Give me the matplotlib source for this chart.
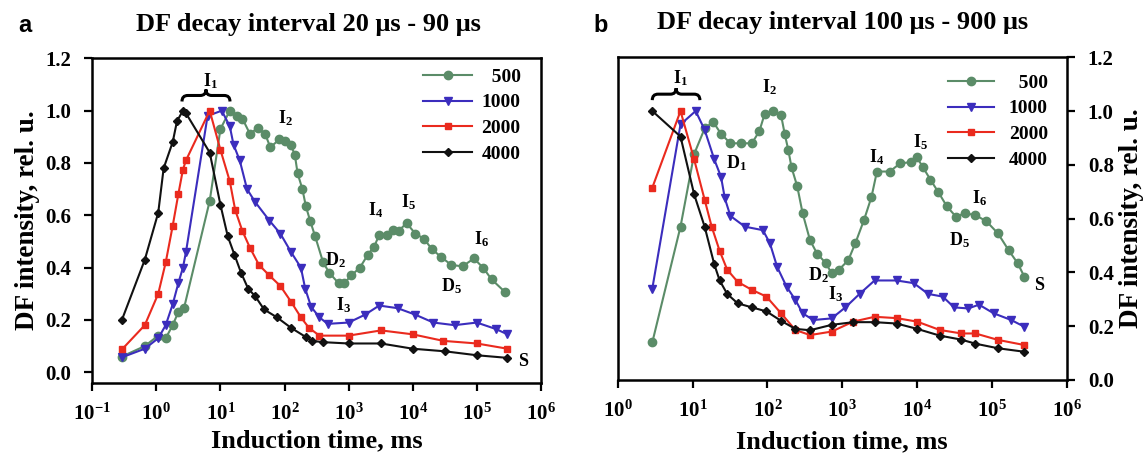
import matplotlib
matplotlib.use("Agg")
import matplotlib.pyplot as plt
from matplotlib.path import Path
from matplotlib.patches import PathPatch

plt.rcParams['font.family'] = ['Liberation Serif', 'DejaVu Serif']
plt.rcParams['font.weight'] = 'bold'
plt.rcParams['mathtext.fontset'] = 'custom'
plt.rcParams['mathtext.rm'] = 'Liberation Serif:bold'
plt.rcParams['mathtext.bf'] = 'Liberation Serif:bold'
plt.rcParams['mathtext.it'] = 'Liberation Serif:bold'

# ---- panel a: DF decay interval 20-90 us ----
a_x_500 = [0.29, 0.66, 1.07, 1.4, 1.8, 2.2, 2.7, 6.8, 10, 14, 18, 22, 29, 38, 50, 60, 83, 100, 125,
           145, 160, 190, 215, 250, 300, 400, 500, 700, 850, 1100, 1500, 2000, 2500, 3000, 4000,
           5000, 6000, 8000, 11000, 15000, 20000, 28000, 40000, 60000, 90000, 125000, 170000, 280000]
a_y_500 = [0.06, 0.10, 0.14, 0.13, 0.18, 0.23, 0.245, 0.655, 0.93, 1.0, 0.98, 0.97, 0.91, 0.935, 0.91,
           0.86, 0.89, 0.885, 0.87, 0.83, 0.76, 0.70, 0.635, 0.58, 0.52, 0.42, 0.38, 0.34, 0.34, 0.37,
           0.40, 0.45, 0.48, 0.525, 0.525, 0.545, 0.54, 0.57, 0.53, 0.51, 0.47, 0.44, 0.41, 0.405,
           0.435, 0.40, 0.355, 0.305]
a_x_1000 = [0.29, 0.66, 1.07, 1.4, 1.8, 2.2, 2.6, 2.9, 6.3, 10.5, 14, 16, 20, 26, 35, 58, 86, 126, 180,
            210, 260, 350, 470, 1000, 1800, 3000, 5800, 11000, 21000, 45000, 100000, 200000, 300000]
a_y_1000 = [0.057, 0.09, 0.13, 0.18, 0.26, 0.34, 0.40, 0.46, 0.98, 1.0, 0.94, 0.87, 0.81, 0.70, 0.65,
            0.58, 0.53, 0.46, 0.40, 0.32, 0.25, 0.21, 0.185, 0.19, 0.22, 0.255, 0.245, 0.22, 0.19,
            0.18, 0.19, 0.165, 0.145]
a_x_2000 = [0.29, 0.66, 1.07, 1.4, 1.8, 2.2, 2.6, 2.9, 6.8, 10, 14, 17, 22, 29, 40, 58, 86, 126, 180,
            240, 350, 1000, 3200, 10000, 30000, 100000, 300000]
a_y_2000 = [0.087, 0.18, 0.30, 0.42, 0.56, 0.68, 0.775, 0.81, 1.0, 0.85, 0.73, 0.62, 0.54, 0.475, 0.41,
            0.37, 0.33, 0.27, 0.21, 0.17, 0.14, 0.14, 0.16, 0.145, 0.12, 0.11, 0.09]
a_x_4000 = [0.29, 0.66, 1.07, 1.3, 1.8, 2.1, 2.6, 2.9, 6.8, 10, 13, 16.5, 21, 27, 35, 48, 76, 126, 214,
            270, 400, 1000, 3200, 10000, 32000, 100000, 300000]
a_y_4000 = [0.20, 0.43, 0.61, 0.78, 0.88, 0.96, 1.0, 0.99, 0.84, 0.64, 0.52, 0.45, 0.38, 0.32, 0.29,
            0.24, 0.21, 0.17, 0.135, 0.12, 0.115, 0.11, 0.11, 0.09, 0.08, 0.065, 0.055]

# ---- panel b: DF decay interval 100-900 us ----
b_x_500 = [2.9, 6.9, 10.5, 14.5, 18.8, 24, 32, 44, 62, 78, 92, 120, 152, 170, 190, 210, 250, 295, 370,
           460, 600, 720, 900, 1200, 1500, 1950, 2450, 2900, 4300, 5900, 8200, 9800, 12000, 15000,
           19000, 25000, 33000, 43000, 60000, 84000, 120000, 166000, 220000, 270000]
b_y_500 = [0.14, 0.57, 0.84, 0.935, 0.96, 0.915, 0.88, 0.88, 0.88, 0.925, 0.99, 1.0, 0.985, 0.915,
           0.855, 0.79, 0.72, 0.62, 0.52, 0.47, 0.435, 0.397, 0.41, 0.445, 0.51, 0.595, 0.68, 0.775,
           0.775, 0.805, 0.81, 0.83, 0.79, 0.745, 0.70, 0.645, 0.607, 0.62, 0.613, 0.59, 0.545,
           0.483, 0.434, 0.384]
b_x_1000 = [2.9, 6.9, 11, 14.5, 19.5, 24, 27, 32, 50, 87, 108, 135, 180, 237, 295, 410, 720, 1100,
            1700, 2700, 5300, 9000, 14000, 22000, 31000, 48000, 67000, 105000, 180000, 270000]
b_y_1000 = [0.34, 0.95, 1.0, 0.93, 0.82, 0.755, 0.675, 0.61, 0.57, 0.557, 0.508, 0.42, 0.347, 0.297,
            0.248, 0.223, 0.229, 0.27, 0.32, 0.37, 0.37, 0.36, 0.32, 0.31, 0.27, 0.266, 0.28, 0.248,
            0.223, 0.198]
b_x_2000 = [2.9, 6.9, 10.5, 14.5, 18, 23, 29, 40, 62, 97, 152, 236, 370, 720, 1400, 2700, 5300, 10000,
            20000, 39000, 60000, 120000, 270000]
b_y_2000 = [0.715, 1.0, 0.82, 0.67, 0.57, 0.48, 0.41, 0.365, 0.335, 0.31, 0.248, 0.186, 0.167, 0.18,
            0.217, 0.235, 0.23, 0.217, 0.186, 0.173, 0.173, 0.149, 0.13]
b_x_4000 = [2.9, 6.9, 10.5, 14.5, 19.5, 23, 29, 40, 62, 97, 152, 236, 370, 720, 1400, 2700, 5300,
            10000, 20000, 39000, 60000, 120000, 270000]
b_y_4000 = [1.0, 0.905, 0.69, 0.57, 0.43, 0.37, 0.32, 0.285, 0.27, 0.255, 0.22, 0.19, 0.185, 0.205,
            0.215, 0.215, 0.21, 0.19, 0.165, 0.15, 0.135, 0.118, 0.105]

labels = ['\u2007500', '1000', '2000', '4000']
colors = ['#5b8c68', '#3b2dbd', '#ea2a1e', '#111111']
markers = ['o', 'v', 's', 'D']
msizes = [6, 6, 5, 4.5]

a_notes = [('I$_2$', 105, 0.97), ('D$_2$', 630, 0.43), ('I$_3$', 830, 0.255), ('I$_4$', 2600, 0.62),
           ('I$_5$', 8500, 0.65), ('I$_6$', 120000, 0.51), ('D$_5$', 40000, 0.33), ('S', 520000, 0.04)]
b_notes = [('I$_2$', 108, 1.09), ('D$_1$', 38, 0.805), ('D$_2$', 487, 0.39), ('I$_3$', 800, 0.32),
           ('I$_4$', 2900, 0.83), ('I$_5$', 11000, 0.886), ('I$_6$', 68000, 0.675),
           ('D$_5$', 37000, 0.52), ('S', 430000, 0.353)]


def brace(ax, x0, x1, y0, h):
    # curly brace opening downwards, in axes fraction
    xm = (x0 + x1) / 2
    w = x1 - x0
    ym = y0 + h / 2
    verts = [(x0, y0), (x0, ym), (x0 + w * 0.12, ym),
             (xm - w * 0.12, ym), (xm, ym), (xm, y0 + h),
             (xm, ym), (xm + w * 0.12, ym),
             (x1 - w * 0.12, ym), (x1, ym), (x1, y0)]
    codes = [Path.MOVETO, Path.CURVE3, Path.CURVE3,
             Path.LINETO, Path.CURVE3, Path.CURVE3,
             Path.CURVE3, Path.CURVE3,
             Path.LINETO, Path.CURVE3, Path.CURVE3]
    ax.add_patch(PathPatch(Path(verts, codes), transform=ax.transAxes, fill=False, lw=2.2,
                           color='black', clip_on=False))


fig = plt.figure(figsize=(11.46, 4.54), dpi=100)
ax1 = fig.add_axes([0.0805, 0.157, 0.3915, 0.7145])
ax2 = fig.add_axes([0.539, 0.163, 0.392, 0.711])

data_a = [(a_x_500, a_y_500), (a_x_1000, a_y_1000), (a_x_2000, a_y_2000), (a_x_4000, a_y_4000)]
data_b = [(b_x_500, b_y_500), (b_x_1000, b_y_1000), (b_x_2000, b_y_2000), (b_x_4000, b_y_4000)]

for ax, data in [(ax1, data_a), (ax2, data_b)]:
    for (xs, ys), lab, c, m, ms in zip(data, labels, colors, markers, msizes):
        ax.plot(xs, ys, color=c, marker=m, markersize=ms, lw=1.5, label=lab)
    ax.set_xscale('log')
    for sp in ax.spines.values():
        sp.set_linewidth(1.8)
    ax.tick_params(direction='out', length=6, width=1.6, labelsize=15, which='major', pad=9)
    ax.tick_params(which='minor', length=0)
    ax.set_ylabel('DF intensity, rel. u.', fontsize=19.5, fontweight='bold')
    ax.set_yticks([0.0, 0.2, 0.4, 0.6, 0.8, 1.0, 1.2])
    ax.set_yticklabels(['0.0', '0.2', '0.4', '0.6', '0.8', '1.0', '1.2'], fontweight='bold')

leg_a = ax1.legend(loc='upper right', frameon=False, fontsize=14, handlelength=2.5,
                   handletextpad=0.5, labelspacing=0.42, borderpad=0, borderaxespad=0,
                   bbox_to_anchor=(0.955, 0.97))
leg_b = ax2.legend(loc='upper right', frameon=False, fontsize=14, handlelength=2.4,
                   handletextpad=0.75, labelspacing=0.42, borderpad=0, borderaxespad=0,
                   bbox_to_anchor=(0.958, 0.948))

ax1.set_xlim(0.1, 1e6)
ax1.set_ylim(-0.04, 1.2)
ax1.set_xticks([10.0 ** k for k in range(-1, 7)])
ax1.set_xticklabels(['$10^{-1}$'] + ['$10^{%d}$' % k for k in range(0, 7)])
ax1.set_xlabel('Induction time, ms', fontsize=19, fontweight='bold', labelpad=3)
ax1.set_title('DF decay interval 20 μs - 90 μs', fontsize=19, fontweight='bold', pad=20, x=0.481)

ax2.set_xlim(1, 1e6)
ax2.set_ylim(0, 1.2)
ax2.set_xticks([10.0 ** k for k in range(0, 7)])
ax2.set_xticklabels(['$10^{%d}$' % k for k in range(0, 7)])
ax2.set_xlabel('Induction time, ms', fontsize=19, fontweight='bold', labelpad=6)
ax2.yaxis.tick_right()
ax2.yaxis.set_label_position('right')
ax2.set_title('DF decay interval 100 μs - 900 μs', fontsize=19, fontweight='bold', pad=20)

for ax, notes in [(ax1, a_notes), (ax2, b_notes)]:
    for txt, x, y in notes:
        ax.text(x, y, txt, fontsize=13, fontweight='bold', ha='center', va='center')

brace(ax1, 0.2, 0.307, 0.867, 0.037)
ax1.text(0.264, 0.93, 'I$_1$', transform=ax1.transAxes, fontsize=13, ha='center', va='center')
brace(ax2, 0.077, 0.183, 0.867, 0.037)
ax2.text(0.14, 0.935, 'I$_1$', transform=ax2.transAxes, fontsize=13, ha='center', va='center')

fig.text(0.016, 0.93, 'a', fontsize=17, fontweight='bold', family='Liberation Sans')
fig.text(0.518, 0.93, 'b', fontsize=17, fontweight='bold', family='Liberation Sans')

fig.savefig('out.png', dpi=100)
